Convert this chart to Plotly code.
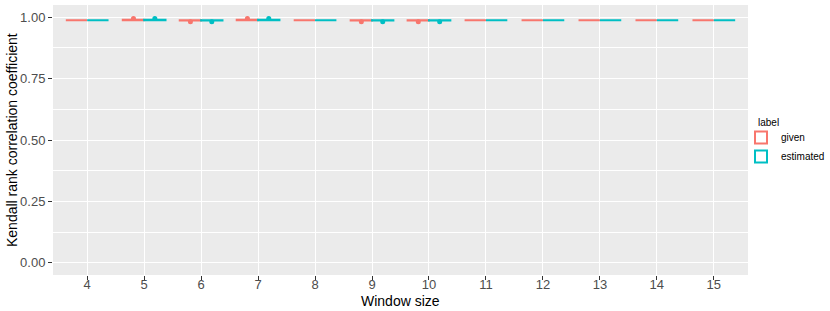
import plotly.graph_objects as go

windows = ["4", "5", "6", "7", "8", "9", "10", "11", "12", "13", "14", "15"]
series_names = ["given", "estimated"]
series_colors = ["#F8766D", "#00BFC4"]

# per-window samples of Kendall tau (flat boxes at ~0.988, a few outliers)
given_values = [
    [0.988, 0.988, 0.988, 0.988, 0.988],
    [0.988, 0.988, 0.988, 0.988, 0.995],
    [0.988, 0.988, 0.988, 0.988, 0.982],
    [0.988, 0.988, 0.988, 0.988, 0.995],
    [0.988, 0.988, 0.988, 0.988, 0.988],
    [0.988, 0.988, 0.988, 0.988, 0.982],
    [0.988, 0.988, 0.988, 0.988, 0.982],
    [0.988, 0.988, 0.988, 0.988, 0.988],
    [0.988, 0.988, 0.988, 0.988, 0.988],
    [0.988, 0.988, 0.988, 0.988, 0.988],
    [0.988, 0.988, 0.988, 0.988, 0.988],
    [0.988, 0.988, 0.988, 0.988, 0.988],
]
estimated_values = [
    [0.988, 0.988, 0.988, 0.988, 0.988],
    [0.988, 0.988, 0.988, 0.988, 0.995],
    [0.988, 0.988, 0.988, 0.988, 0.982],
    [0.988, 0.988, 0.988, 0.988, 0.995],
    [0.988, 0.988, 0.988, 0.988, 0.988],
    [0.988, 0.988, 0.988, 0.988, 0.982],
    [0.988, 0.988, 0.988, 0.988, 0.982],
    [0.988, 0.988, 0.988, 0.988, 0.988],
    [0.988, 0.988, 0.988, 0.988, 0.988],
    [0.988, 0.988, 0.988, 0.988, 0.988],
    [0.988, 0.988, 0.988, 0.988, 0.988],
    [0.988, 0.988, 0.988, 0.988, 0.988],
]

fig = go.Figure()
for name, color, vals in zip(series_names, series_colors, [given_values, estimated_values]):
    xs, ys = [], []
    for w, arr in zip(windows, vals):
        xs += [w] * len(arr)
        ys += arr
    fig.add_trace(go.Box(
        x=xs, y=ys, name=name,
        line=dict(color=color, width=2),
        fillcolor="white",
        marker=dict(color=color, size=5),
        boxpoints="outliers", pointpos=0, jitter=0,
        whiskerwidth=0,
    ))

fig.update_layout(
    width=830, height=311,
    margin=dict(l=53, r=82, t=5, b=36, autoexpand=False),
    paper_bgcolor="white",
    plot_bgcolor="#EBEBEB",
    boxmode="group", boxgap=0.25, boxgroupgap=0,
    font=dict(family="Liberation Sans, Arial, sans-serif", color="#4D4D4D"),
    legend=dict(
        xref="container", yref="container",
        x=741 / 830, y=1 - 123 / 311, xanchor="left", yanchor="top",
        font=dict(size=10, color="black"),
        bgcolor="rgba(0,0,0,0)",
        itemwidth=30,
        tracegroupgap=0,
    ),
    xaxis=dict(
        automargin=False,
        categoryorder="array", categoryarray=windows,
        range=[-0.6, 11.6],
        showgrid=True, gridcolor="white", gridwidth=1.1,
        ticks="outside", ticklen=4, tickcolor="#333333",
        ticklabelstandoff=-7,
        tickfont=dict(size=13, color="#4D4D4D"),
        zeroline=False, showline=False,
    ),
    yaxis=dict(
        automargin=False,
        range=[-0.05, 1.05],
        tickvals=[0, 0.25, 0.5, 0.75, 1.0],
        ticktext=["0.00", "0.25", "0.50", "0.75", "1.00"],
        showgrid=True, gridcolor="white", gridwidth=1.1,
        minor=dict(tickvals=[0.125, 0.375, 0.625, 0.875], showgrid=True, gridcolor="white", gridwidth=0.5),
        ticks="outside", ticklen=4, tickcolor="#333333",
        tickfont=dict(size=13, color="#4D4D4D"),
        zeroline=False, showline=False,
    ),
    annotations=[
        dict(text="Window size", xref="paper", yref="paper", x=0.5, y=(275 - 301) / 270,
             xanchor="center", yanchor="middle", showarrow=False,
             font=dict(size=14, color="black")),
        dict(text="Kendall rank correlation coefficient", xref="paper", yref="paper",
             x=(12 - 53) / 695, y=0.5, xanchor="center", yanchor="middle", textangle=-90,
             showarrow=False, font=dict(size=14, color="black")),
        dict(text="label", xref="paper", yref="paper", x=(756 - 53) / 695, y=(275 - 123) / 270,
             xanchor="left", yanchor="middle", showarrow=False,
             font=dict(size=10, color="black")),
    ],
)

fig.write_html("out.html", config={"displayModeBar": False},
               post_script="document.body.style.margin='0';")
